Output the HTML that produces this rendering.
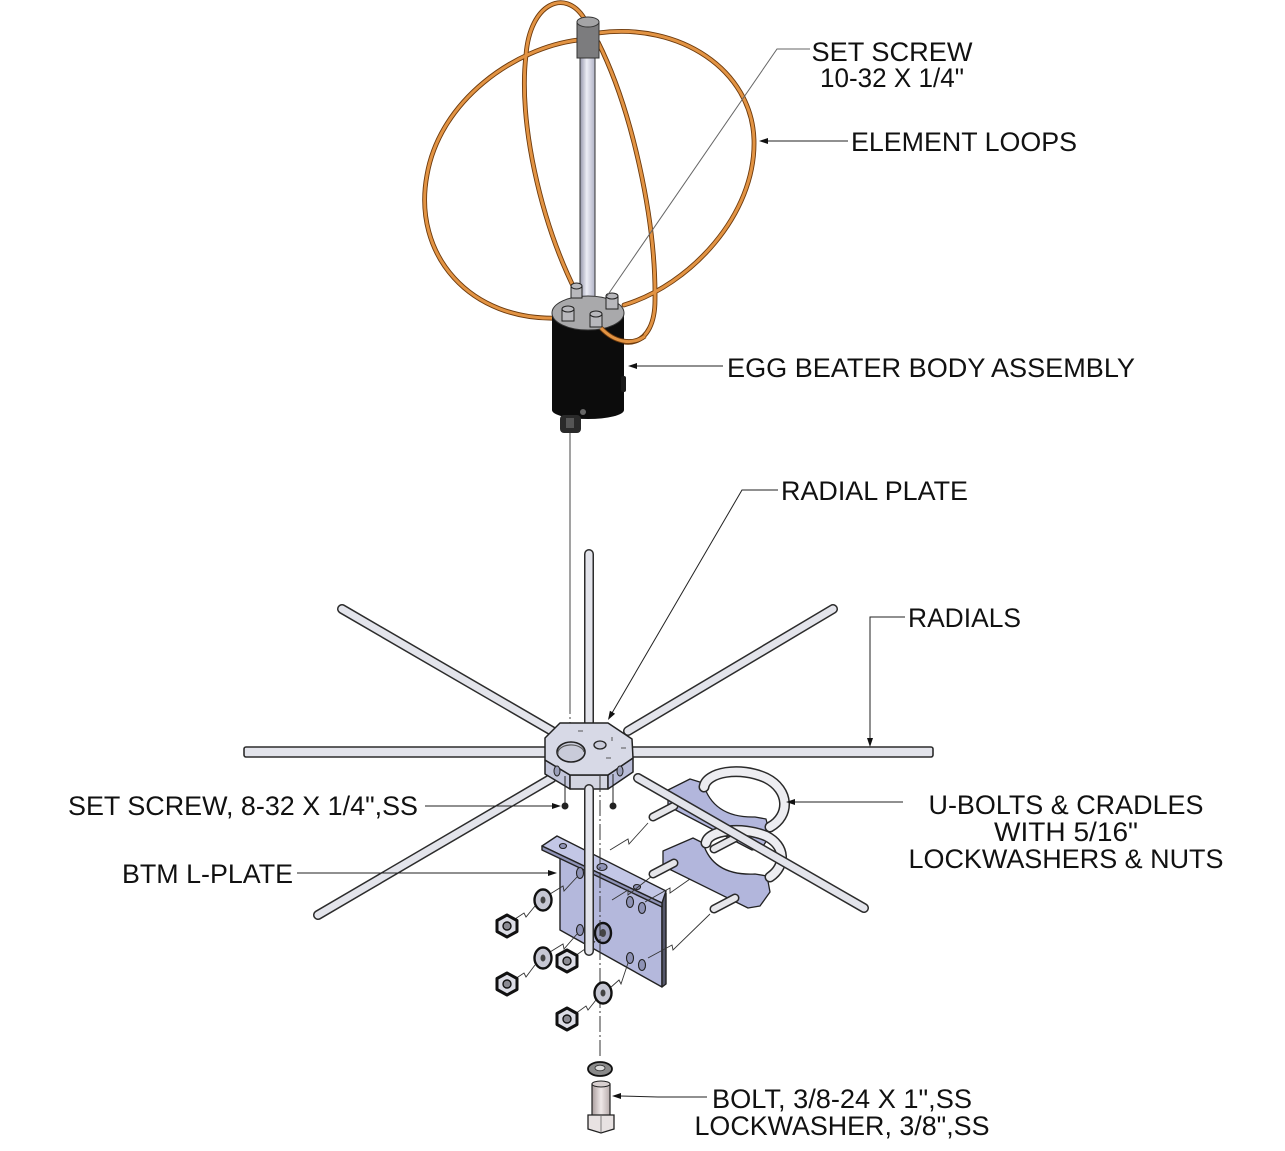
<!DOCTYPE html>
<html><head><meta charset="utf-8">
<style>
html,body{margin:0;padding:0;background:#fff;}
svg{display:block;}
text{font-family:"Liberation Sans",Arial,sans-serif;font-size:26.5px;fill:#111;}
</style></head><body>
<svg width="1285" height="1151" viewBox="0 0 1285 1151" xmlns="http://www.w3.org/2000/svg">
<defs>
<linearGradient id="mast" x1="0" x2="1" y1="0" y2="0">
<stop offset="0" stop-color="#9496aa"/><stop offset="0.45" stop-color="#ecedf5"/><stop offset="1" stop-color="#b0b2c6"/>
</linearGradient>
<linearGradient id="bolt" x1="0" x2="1" y1="0" y2="0">
<stop offset="0" stop-color="#a89c9c"/><stop offset="0.5" stop-color="#efe8e8"/><stop offset="1" stop-color="#b7abab"/>
</linearGradient>
</defs>
<rect width="1285" height="1151" fill="#fff"/>

<!-- ===== EGG BEATER ===== -->
<g fill="none" stroke-linecap="round">
<g stroke="#6d3a0c" stroke-width="4.8">
<path d="M560 318 C470 322,412 255,427 175 C440 100,515 48,578 40"/>
<path d="M598 33 C680 22,752 70,754 140 C756 215,690 285,624 305"/>
<path d="M576 292 C540 220,518 120,526 55 C530 3,565 -12,584 18"/>
<path d="M598 42 C632 110,656 220,655 300 C655 348,622 352,601 328"/>
</g>
<g stroke="#e29343" stroke-width="3">
<path d="M560 318 C470 322,412 255,427 175 C440 100,515 48,578 40"/>
<path d="M598 33 C680 22,752 70,754 140 C756 215,690 285,624 305"/>
<path d="M576 292 C540 220,518 120,526 55 C530 3,565 -12,584 18"/>
<path d="M598 42 C632 110,656 220,655 300 C655 348,622 352,601 328"/>
</g>
</g>
<!-- mast -->
<rect x="580" y="50" width="15" height="258" fill="url(#mast)" stroke="#333" stroke-width="1"/>
<!-- cap -->
<rect x="577" y="22" width="22" height="36" fill="#7c7c7e" stroke="#333" stroke-width="1"/>
<ellipse cx="588" cy="22" rx="11" ry="5" fill="#a4a4a6" stroke="#333" stroke-width="1"/>
<!-- body -->
<path d="M552 313 L552 410 A36 9 0 0 0 624 410 L624 313 Z" fill="#0c0c0c"/>
<ellipse cx="588" cy="313" rx="36" ry="17" fill="#a9a9ab" stroke="#333" stroke-width="1"/>
<rect x="621" y="376" width="5" height="16" rx="2" fill="#1a1a1a"/>
<rect x="560" y="415" width="21" height="18" rx="4" fill="#2a2a2a"/>
<rect x="566" y="418" width="8" height="10" fill="#555"/>
<circle cx="583" cy="412" r="3" fill="#666"/>
<!-- knobs -->
<g fill="#b8b8bc" stroke="#222" stroke-width="1">
<rect x="571" y="286" width="11" height="12"/><ellipse cx="576.5" cy="286" rx="5.5" ry="3"/>
<rect x="606" y="296" width="12" height="13"/><ellipse cx="612" cy="296" rx="6" ry="3"/>
<rect x="562" y="309" width="12" height="12"/><ellipse cx="568" cy="309" rx="6" ry="3"/>
<rect x="590" y="314" width="12" height="13"/><ellipse cx="596" cy="314" rx="6" ry="3"/>
</g>
<!-- front loop bits over body -->
<path d="M601 328 C614 342,632 346,645 336" fill="none" stroke="#6d3a0c" stroke-width="4.8"/>
<path d="M601 328 C614 342,632 346,645 336" fill="none" stroke="#e29343" stroke-width="3"/>

<!-- axis line from body -->
<line x1="570" y1="433" x2="570" y2="700" stroke="#444" stroke-width="1"/>
<line x1="570" y1="700" x2="570" y2="775" stroke="#444" stroke-width="1" stroke-dasharray="14 3 2 3"/>

<!-- ===== RADIALS (back) ===== -->
<g stroke-linecap="round">
<g stroke="#2c2c2c" stroke-width="10">
<line x1="342" y1="609" x2="552" y2="731"/>
<line x1="833" y1="609" x2="628" y2="731"/>
<line x1="589" y1="554" x2="589" y2="735"/>
<line x1="318" y1="915" x2="552" y2="778"/>
</g>
<g stroke="#e3e4eb" stroke-width="7">
<line x1="342" y1="609" x2="552" y2="731"/>
<line x1="833" y1="609" x2="628" y2="731"/>
<line x1="589" y1="554" x2="589" y2="735"/>
<line x1="318" y1="915" x2="552" y2="778"/>
</g>
</g>
<rect x="244" y="747" width="689" height="10" rx="2" fill="#e3e4eb" stroke="#2c2c2c" stroke-width="1.6"/>

<!-- leader lines behind rods -->
<line x1="297" y1="873" x2="549" y2="873" stroke="#222" stroke-width="1"/>
<polygon points="557,873 548,870 548,876" fill="#111"/>

<!-- ===== RADIAL PLATE ===== -->
<g stroke="#222" stroke-width="1.5" stroke-linejoin="round">
<polygon points="545,760 570,775 570,789 545,774" fill="#c3c6da"/>
<polygon points="570,775 608,775 608,789 570,789" fill="#d3d5e1"/>
<polygon points="608,775 633,758 633,772 608,789" fill="#b9bdd8"/>
<polygon points="545,738 560,723 608,723 632,739 633,758 608,775 570,775 545,760" fill="#d7d9e6"/>
</g>
<ellipse cx="571" cy="752" rx="14" ry="10" fill="#c9cbd9" stroke="#222" stroke-width="1.6"/>
<path d="M558 754 A13 8 0 0 1 584 752" fill="none" stroke="#555" stroke-width="1.2"/>
<ellipse cx="600" cy="745" rx="6" ry="4" fill="#c9cbd9" stroke="#222" stroke-width="1.3"/>
<ellipse cx="557" cy="771" rx="3" ry="5" fill="#9a9eb8" stroke="#222" stroke-width="1"/>
<ellipse cx="620" cy="771" rx="3" ry="5" fill="#9a9eb8" stroke="#222" stroke-width="1"/>
<g stroke="#555" stroke-width="1">
<line x1="578" y1="731" x2="583" y2="731"/><line x1="606" y1="758" x2="611" y2="758"/>
<line x1="612" y1="737" x2="612" y2="741"/><line x1="621" y1="748" x2="626" y2="748"/>
</g>

<!-- set screws -->
<line x1="565" y1="776" x2="565" y2="806" stroke="#222" stroke-width="1"/>
<line x1="613" y1="774" x2="613" y2="806" stroke="#222" stroke-width="1"/>
<circle cx="565" cy="806" r="3.5" fill="#222"/>
<circle cx="613" cy="806" r="3.5" fill="#222"/>
<line x1="425" y1="806" x2="553" y2="806" stroke="#222" stroke-width="1"/>
<polygon points="561,806 552,803 552,809" fill="#111"/>

<!-- ===== L-PLATE ===== -->
<g stroke="#222" stroke-width="1.4" stroke-linejoin="round">
<polygon points="560,858 662,900 662,987 560,930" fill="#b4b8dc"/>
<polygon points="662,897 666,893 666,984 662,987" fill="#55576a"/>
<polygon points="542,846 557,836 666,891 662,903" fill="#c3c7e6"/>
<polygon points="542,846 662,903 662,907 542,850" fill="#8e92b6"/>
</g>
<g fill="#8e92b5" stroke="#222" stroke-width="1.1">
<ellipse cx="563" cy="846" rx="3.5" ry="2.5"/>
<ellipse cx="637" cy="887" rx="3.5" ry="2.5"/>
<ellipse cx="602" cy="867" rx="5" ry="3.5"/>
<ellipse cx="580" cy="873" rx="3.5" ry="5.5"/>
<ellipse cx="630" cy="902" rx="3.5" ry="5.5"/>
<ellipse cx="642" cy="908" rx="3.5" ry="5.5"/>
<ellipse cx="580" cy="930" rx="3.5" ry="5.5"/>
<ellipse cx="630" cy="958" rx="3.5" ry="5.5"/>
<ellipse cx="642" cy="965" rx="3.5" ry="5.5"/>
</g>
<ellipse cx="603" cy="933" rx="8" ry="10" fill="#9a9dba" stroke="#111" stroke-width="2.4"/>
<ellipse cx="603" cy="933" rx="3" ry="4" fill="#444"/>

<!-- dash-dot axis through bracket -->
<line x1="600" y1="776" x2="600" y2="1058" stroke="#333" stroke-width="1" stroke-dasharray="16 3 2 3"/>

<!-- break lines -->
<g fill="none" stroke="#333" stroke-width="0.9">
<path d="M515 919 L524 913 L526 917 L535 906"/>
<path d="M550 894 L563 886 L564 891 L577 877"/>
<path d="M515 979 L524 973 L526 977 L535 965"/>
<path d="M550 952 L563 944 L564 949 L577 934"/>
<path d="M575 956 L585 949 L587 953 L595 941"/>
<path d="M575 1014 L586 1006 L588 1010 L596 1000"/>
<path d="M610 988 L619 980 L621 984 L628 963"/>
<path d="M610 850 L628 839 L629 844 L648 823"/>
<path d="M645 902 L670 888 L670 893 L700 872"/>
<path d="M648 958 L672 945 L673 950 L710 914"/>
<path d="M612 900 L628 890 L628 895 L652 876"/>
</g>

<!-- nuts -->
<g stroke="#111" stroke-width="3" fill="#dcdde6" stroke-linejoin="round">
<polygon points="507,915 517,920.5 517,931.5 507,937 497,931.5 497,920.5"/>
<polygon points="507,973 517,978.5 517,989.5 507,995 497,989.5 497,978.5"/>
<polygon points="567,950 577,955.5 577,966.5 567,972 557,966.5 557,955.5"/>
<polygon points="567,1008 577,1013.5 577,1024.5 567,1030 557,1024.5 557,1013.5"/>
</g>
<g fill="#8a8a92" stroke="#111" stroke-width="1.4">
<circle cx="507" cy="926" r="4"/><circle cx="507" cy="984" r="4"/>
<circle cx="567" cy="961" r="4"/><circle cx="567" cy="1019" r="4"/>
</g>
<!-- washers -->
<g fill="#c6c7d3" stroke="#111" stroke-width="2.4">
<ellipse cx="543" cy="900" rx="8.5" ry="10.5"/>
<ellipse cx="543" cy="958" rx="8.5" ry="10.5"/>
<ellipse cx="603" cy="993" rx="8.5" ry="10.5"/>
</g>
<g fill="#444">
<ellipse cx="543" cy="900" rx="2.5" ry="3.5"/>
<ellipse cx="543" cy="958" rx="2.5" ry="3.5"/>
<ellipse cx="603" cy="993" rx="2.5" ry="3.5"/>
</g>

<!-- vertical radial bottom (front) -->
<line x1="589" y1="789" x2="589" y2="951" stroke="#2c2c2c" stroke-width="10" stroke-linecap="round"/>
<line x1="589" y1="789" x2="589" y2="951" stroke="#e3e4eb" stroke-width="7" stroke-linecap="round"/>

<!-- ===== CRADLES & U-BOLTS ===== -->
<g stroke="#222" stroke-width="1.3" stroke-linejoin="round" fill="#b2b6dc">
<path d="M668 790 L690 779 L703 783 Q713 818 755 817 L766 819 L770 835 L762 848 L752 850 L668 806 Z"/>
<path d="M663 851 L693 838 L703 843 Q713 876 755 874 L767 876 L770 892 L760 906 L748 908 L663 866 Z"/>
</g>
<g fill="none" stroke-linecap="round">
<path d="M704 787 C706 772,740 766,766 778 C790 790,790 816,770 827" stroke="#2a2a2a" stroke-width="11"/>
<path d="M704 787 C706 772,740 766,766 778 C790 790,790 816,770 827" stroke="#ededf1" stroke-width="8"/>
<path d="M706 843 C708 830,742 826,766 836 C786 846,786 866,770 877" stroke="#2a2a2a" stroke-width="11"/>
<path d="M706 843 C708 830,742 826,766 836 C786 846,786 866,770 877" stroke="#ededf1" stroke-width="8"/>
</g>
<g stroke-linecap="round">
<g stroke="#2a2a2a" stroke-width="9">
<line x1="653" y1="817" x2="674" y2="806"/>
<line x1="714" y1="849" x2="735" y2="838"/>
<line x1="653" y1="874" x2="674" y2="863"/>
<line x1="714" y1="909" x2="735" y2="898"/>
</g>
<g stroke="#e6e6ea" stroke-width="6">
<line x1="653" y1="817" x2="674" y2="806"/>
<line x1="714" y1="849" x2="735" y2="838"/>
<line x1="653" y1="874" x2="674" y2="863"/>
<line x1="714" y1="909" x2="735" y2="898"/>
</g>
</g>
<!-- lower-right radial (front) -->
<line x1="638" y1="778" x2="864" y2="908" stroke="#2c2c2c" stroke-width="10" stroke-linecap="round"/>
<line x1="638" y1="778" x2="864" y2="908" stroke="#e3e4eb" stroke-width="7" stroke-linecap="round"/>

<!-- ===== BOLT ===== -->
<ellipse cx="600" cy="1069" rx="12" ry="7" fill="#8a8a8a" stroke="#111" stroke-width="1.8"/>
<ellipse cx="600" cy="1068" rx="5" ry="2.8" fill="#ddd" stroke="#333" stroke-width="0.8"/>
<rect x="592" y="1084" width="18" height="32" fill="url(#bolt)" stroke="#222" stroke-width="1.2"/>
<ellipse cx="601" cy="1084" rx="9" ry="3" fill="#d8d0d0" stroke="#222" stroke-width="1"/>
<polygon points="588,1115 614,1115 614,1129 601,1133 588,1129" fill="#e8e2e2" stroke="#222" stroke-width="1.3"/>
<line x1="601" y1="1116" x2="601" y2="1132" stroke="#666" stroke-width="0.8"/>

<!-- ===== LEADERS ===== -->
<g fill="none" stroke="#222" stroke-width="1">
<polyline points="810,49 777,49 607,296" stroke="#666"/>
<line x1="848" y1="141" x2="767" y2="141"/>
<line x1="723" y1="366" x2="636" y2="366"/>
<polyline points="778,490 742,490 612,713"/>
<polyline points="905,617 870,617 870,738"/>
<line x1="903" y1="802" x2="794" y2="802"/>
<polyline points="707,1097 658,1097 620,1096"/>
</g>
<g fill="#111">
<polygon points="759,141 768,138 768,144"/>
<polygon points="628,366 637,363 637,369"/>
<polygon points="608,720 615.1,713.7 609.9,710.7"/>
<polygon points="870,747 867,738 873,738"/>
<polygon points="786,802 795,799 795,805"/>
<polygon points="612,1096 621,1093 621,1099"/>
</g>

<!-- ===== LABELS ===== -->
<text x="892" y="61" text-anchor="middle" textLength="161" lengthAdjust="spacingAndGlyphs">SET SCREW</text>
<text x="892" y="87" text-anchor="middle" textLength="144" lengthAdjust="spacingAndGlyphs">10-32 X 1/4"</text>
<text x="851" y="151" textLength="226" lengthAdjust="spacingAndGlyphs">ELEMENT LOOPS</text>
<text x="727" y="377" textLength="408" lengthAdjust="spacingAndGlyphs">EGG BEATER BODY ASSEMBLY</text>
<text x="781" y="500" textLength="187" lengthAdjust="spacingAndGlyphs">RADIAL PLATE</text>
<text x="908" y="627" textLength="113" lengthAdjust="spacingAndGlyphs">RADIALS</text>
<text x="68" y="815" textLength="350" lengthAdjust="spacingAndGlyphs">SET SCREW, 8-32 X 1/4",SS</text>
<text x="122" y="883" textLength="171" lengthAdjust="spacingAndGlyphs">BTM L-PLATE</text>
<text x="1066" y="814" text-anchor="middle" textLength="275" lengthAdjust="spacingAndGlyphs">U-BOLTS &amp; CRADLES</text>
<text x="1066" y="841" text-anchor="middle" textLength="144" lengthAdjust="spacingAndGlyphs">WITH 5/16"</text>
<text x="1066" y="868" text-anchor="middle" textLength="315" lengthAdjust="spacingAndGlyphs">LOCKWASHERS &amp; NUTS</text>
<text x="842" y="1108" text-anchor="middle" textLength="260" lengthAdjust="spacingAndGlyphs">BOLT, 3/8-24 X 1",SS</text>
<text x="842" y="1135" text-anchor="middle" textLength="295" lengthAdjust="spacingAndGlyphs">LOCKWASHER, 3/8",SS</text>
</svg>
</body></html>
